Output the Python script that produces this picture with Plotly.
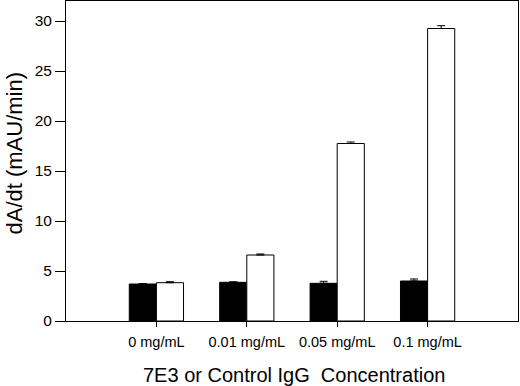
import plotly.graph_objects as go

categories = ["0 mg/mL", "0.01 mg/mL", "0.05 mg/mL", "0.1 mg/mL"]
x_pos = [0, 1, 2, 3]
igg_values = [3.7, 3.87, 3.77, 4.0]
igg_err = [0.05, 0.05, 0.2, 0.2]
e3_values = [3.83, 6.6, 17.75, 29.25]
e3_err = [0.1, 0.1, 0.15, 0.28]
y_ticks = [0, 5, 10, 15, 20, 25, 30]

font_family = "Liberation Sans, Arial, sans-serif"

fig = go.Figure()
fig.add_trace(go.Bar(
    x=x_pos, y=igg_values, name="Control IgG",
    marker=dict(color="black", line=dict(color="black", width=1)),
    error_y=dict(type="data", array=igg_err, arrayminus=[0]*4, symmetric=False,
                 color="black", thickness=1, width=4),
    width=0.3, offset=-0.3,
))
fig.add_trace(go.Bar(
    x=x_pos, y=e3_values, name="7E3",
    marker=dict(color="white", line=dict(color="black", width=1)),
    error_y=dict(type="data", array=e3_err, arrayminus=[0]*4, symmetric=False,
                 color="black", thickness=1, width=4),
    width=0.3, offset=0,
))

fig.update_layout(
    width=520, height=386,
    margin=dict(l=66, r=2, t=1, b=65),
    paper_bgcolor="white", plot_bgcolor="white",
    showlegend=False,
    barmode="overlay",
    font=dict(family=font_family, color="black", size=14),
    annotations=[
        dict(text="dA/dt (mAU/min)", textangle=-90, showarrow=False,
             xref="paper", yref="paper", x=0, y=0.5234, xanchor="center", yanchor="middle",
             xshift=-51, font=dict(size=22)),
        dict(text="7E3 or Control IgG\u00a0 Concentration", showarrow=False,
             xref="paper", yref="paper", x=0.504, y=0, xanchor="center", yanchor="middle",
             yshift=-54, font=dict(size=20)),
    ],
)
fig.update_xaxes(
    range=[-1, 4],
    tickmode="array", tickvals=x_pos, ticktext=categories,
    ticks="outside", ticklen=5, tickwidth=1, tickcolor="black",
    showline=True, linecolor="black", linewidth=1, mirror=True,
    showgrid=False, zeroline=False,
    tickfont=dict(size=14.5), ticklabelstandoff=3,
)
fig.update_yaxes(
    range=[0, 32],
    tickmode="array", tickvals=y_ticks,
    ticks="outside", ticklen=10, tickwidth=1, tickcolor="black",
    showline=True, linecolor="black", linewidth=1, mirror=True,
    showgrid=False, zeroline=False,
    tickfont=dict(size=15.5),
)

fig.write_html("out.html", config={"displayModeBar": False},
               post_script="document.body.style.margin='0';document.body.style.overflow='hidden';")
